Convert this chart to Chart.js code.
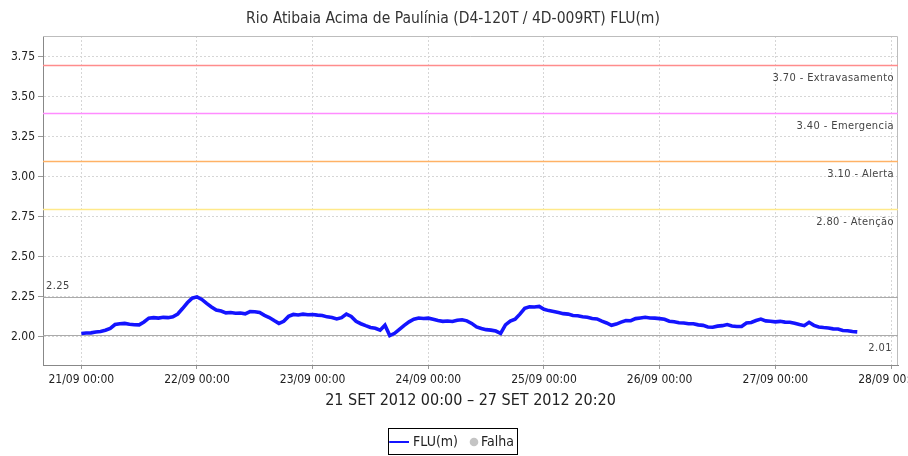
<!DOCTYPE html>
<html><head><meta charset="utf-8">
<script src="https://cdn.jsdelivr.net/npm/chart.js@4/dist/chart.umd.min.js"></script>
<style>html,body{margin:0;padding:0;background:#fff}#wrap{width:908px;height:456px}</style>
</head><body><div id="wrap"><canvas id="c" width="908" height="456"></canvas></div>
<script>
const FAMILY = '"DejaVu Sans Condensed", "Liberation Sans Narrow", "DejaVu Sans", sans-serif';
const chartTitle = 'Rio Atibaia Acima de Paulínia (D4-120T / 4D-009RT) FLU(m)';
const xAxisTitle = '21 SET 2012 00:00 – 27 SET 2012 20:20';
const xTickLabels = ['21/09 00:00','22/09 00:00','23/09 00:00','24/09 00:00','25/09 00:00','26/09 00:00','27/09 00:00','28/09 00:00'];

// hourly readings from 21/09 00:00
const flu = [
2.020,2.023,2.024,2.029,2.032,2.040,2.052,2.076,2.081,2.083,2.078,2.075,2.074,2.092,2.116,2.119,2.116,2.121,2.119,2.125,
2.142,2.176,2.212,2.241,2.249,2.233,2.208,2.186,2.167,2.160,2.149,2.151,2.147,2.148,2.143,2.157,2.156,2.151,2.133,2.120,
2.101,2.083,2.096,2.127,2.139,2.136,2.141,2.137,2.139,2.135,2.133,2.124,2.120,2.111,2.119,2.141,2.127,2.096,2.081,2.069,
2.058,2.053,2.041,2.072,2.007,2.021,2.046,2.071,2.093,2.109,2.117,2.114,2.116,2.109,2.101,2.096,2.098,2.095,2.103,2.106,
2.099,2.083,2.061,2.051,2.044,2.041,2.035,2.021,2.074,2.097,2.109,2.141,2.177,2.187,2.186,2.189,2.171,2.163,2.157,2.151,
2.144,2.141,2.132,2.131,2.125,2.121,2.114,2.111,2.097,2.086,2.071,2.079,2.091,2.101,2.100,2.113,2.117,2.121,2.117,2.116,
2.113,2.109,2.097,2.093,2.087,2.086,2.081,2.081,2.074,2.071,2.061,2.059,2.066,2.069,2.076,2.067,2.064,2.064,2.086,2.089,
2.101,2.110,2.099,2.097,2.093,2.096,2.091,2.090,2.084,2.076,2.069,2.090,2.071,2.061,2.057,2.054,2.049,2.048,2.039,2.037,
2.032,2.030
];
const hours = flu.map((_, i) => i);

const thresholdValues = [3.70, 3.40, 3.10, 2.80];
const thresholdNames = ['Extravasamento', 'Emergencia', 'Alerta', 'Atenção'];
const thresholdColors = ['#ff8c8c', '#ff8cff', '#ffb266', '#ffe98a'];
const maxValue = 2.25;
const minValue = 2.01;

Chart.defaults.font.family = FAMILY;

const falhaIcon = document.createElement('canvas');
falhaIcon.width = 26; falhaIcon.height = 10;
(function(){ const c = falhaIcon.getContext('2d'); c.fillStyle = '#c4c4c4'; c.beginPath(); c.arc(20, 5, 4.3, 0, Math.PI * 2); c.fill(); })();

const markerPlugin = {
  id: 'markers',
  beforeDatasetsDraw(chart) {
    const {ctx, chartArea: a, scales: {y}} = chart;
    ctx.save();
    ctx.lineWidth = 1;
    ctx.strokeStyle = '#bdbdbd';
    ctx.beginPath();
    ctx.moveTo(a.left, a.top + 0.5); ctx.lineTo(a.right - 0.5, a.top + 0.5); ctx.lineTo(a.right - 0.5, a.bottom);
    ctx.stroke();
    const hline = (v, color, w) => {
      const py = Math.round(y.getPixelForValue(v)) + 0.5;
      ctx.lineWidth = w;
      ctx.strokeStyle = color;
      ctx.beginPath(); ctx.moveTo(a.left, py); ctx.lineTo(a.right, py); ctx.stroke();
      return py;
    };
    ctx.font = '11px ' + FAMILY;
    try { ctx.letterSpacing = '0.4px'; } catch (e) {}
    ctx.fillStyle = '#444';
    ctx.textBaseline = 'middle';
    thresholdValues.forEach((v, i) => {
      const py = hline(v, thresholdColors[i], 1.6);
      ctx.textAlign = 'right';
      ctx.fillText(v.toFixed(2) + ' - ' + thresholdNames[i], a.right - 4, py + 13);
    });
    let py = hline(maxValue, '#ababab', 1.2);
    ctx.textAlign = 'left';
    ctx.fillText(maxValue.toFixed(2), a.left + 3, py - 11.5);
    py = hline(minValue, '#ababab', 1.2);
    ctx.textAlign = 'right';
    ctx.fillText(minValue.toFixed(2), a.right - 6, py + 13);
    ctx.restore();
  },
  afterDraw(chart) {
    const lg = chart.legend;
    if (!lg || !lg.legendHitBoxes || !lg.legendHitBoxes.length) return;
    const hb = lg.legendHitBoxes;
    const l = Math.min(...hb.map(h => h.left)) - 4;
    const r = Math.max(...hb.map(h => h.left + h.width)) + 3;
    const cy = hb[0].top + hb[0].height / 2;
    const ctx = chart.ctx;
    ctx.save();
    ctx.strokeStyle = '#000'; ctx.lineWidth = 1;
    ctx.strokeRect(Math.round(l) + 0.5, Math.round(cy - 14) + 0.5, Math.round(r - l), 26);
    ctx.restore();
  }
};

new Chart(document.getElementById('c'), {
  type: 'line',
  data: {
    datasets: [
      { label: 'FLU(m)', data: hours.map((h, i) => ({x: h, y: flu[i]})), borderColor: '#1414ff', backgroundColor: '#1414ff',
        borderWidth: 3.6, pointRadius: 0, pointStyle: 'line', tension: 0, fill: false },
      { label: 'Falha', data: [], pointStyle: falhaIcon, backgroundColor: '#c4c4c4', borderColor: '#c4c4c4', showLine: false }
    ]
  },
  options: {
    responsive: false, animation: false, devicePixelRatio: 1,
    layout: { padding: { left: 8, right: 10, top: 0, bottom: -3 } },
    plugins: {
      title: { display: true, text: chartTitle, color: '#333', font: { size: 15.5, weight: 'normal' }, padding: { top: 10, bottom: 7.4 } },
      legend: {
        position: 'bottom',
        labels: {
          usePointStyle: true, boxHeight: 14, boxWidth: 14, padding: 2, color: '#222', font: { size: 14 },
          generateLabels(chart) {
            const items = Chart.defaults.plugins.legend.labels.generateLabels(chart);
            items.forEach(it => { it.lineWidth = it.datasetIndex === 0 ? 2 : 0; });
            return items;
          }
        }
      },
      tooltip: { enabled: false }
    },
    scales: {
      x: {
        type: 'linear', min: -7.95, max: 169.45,
        afterFit(s) { s.height = 68; s.paddingLeft = 0; s.paddingRight = 0; },
        ticks: { stepSize: 24, includeBounds: false, autoSkip: false, maxRotation: 0, padding: 4, color: '#222', font: { size: 12 },
          callback: (v) => xTickLabels[Math.round(v / 24)] },
        grid: { color: '#d6d6d6', tickColor: '#999', tickLength: 4 },
        border: { color: '#888', dash: [2, 2] },
        title: { display: true, text: xAxisTitle, color: '#222', font: { size: 16 }, padding: { top: 0, bottom: 22.4 } }
      },
      y: {
        min: 1.823, max: 3.88,
        afterFit(s) { s.width = 35; },
        ticks: { stepSize: 0.25, includeBounds: false, padding: 3, color: '#222', font: { size: 12 }, callback: (v) => v.toFixed(2) },
        grid: { color: '#d6d6d6', tickColor: '#999', tickLength: 5 },
        border: { color: '#888', dash: [2, 2] }
      }
    }
  },
  plugins: [markerPlugin]
});
</script></body></html>
